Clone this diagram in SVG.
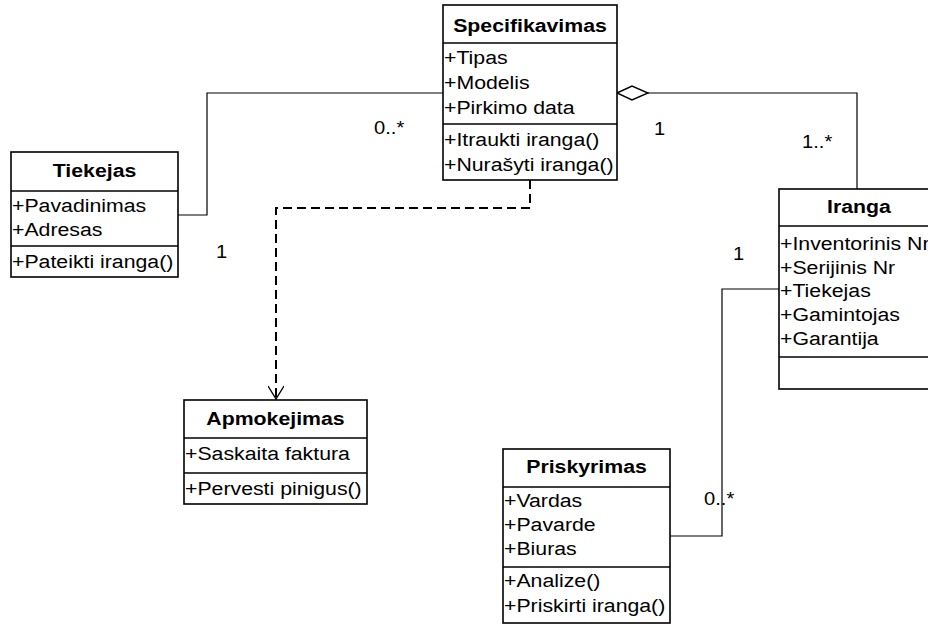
<svg xmlns="http://www.w3.org/2000/svg" width="928" height="624" viewBox="0 0 928 624">
  <style>
    .box { fill: #ffffff; stroke: #000000; stroke-width: 1.6; }
    .sep { stroke: #000000; stroke-width: 1.6; }
    .edge { fill: none; stroke: #000000; stroke-width: 1.2; }
    .dep { fill: none; stroke: #000000; stroke-width: 2; stroke-dasharray: 9 5; }
    text { font-family: "Liberation Sans", Arial, Helvetica, sans-serif; font-size: 19px; fill: #000000; }
    .title { font-weight: bold; text-anchor: middle; }
    .lbl { font-size: 18px; }
  </style>
  <defs>
    <marker id="open-arrow" viewBox="0 0 28 16" refX="26" refY="8" markerWidth="28" markerHeight="16" markerUnits="userSpaceOnUse" orient="auto">
      <path d="M13,0 L26,8 L13,16" fill="none" stroke="#000" stroke-width="1.4"/>
    </marker>
  </defs>

  <!-- connectors -->
  <g id="connectors">
    <!-- Tiekejas – Specifikavimas association -->
    <polyline class="edge" points="178,215 207,215 207,93 443,93"/>
    <!-- Specifikavimas ◇— Iranga aggregation -->
    <polyline class="edge" points="648,93 857,93 857,189"/>
    <polygon points="617,93 632,86 648,93 632,100" fill="#ffffff" stroke="#000" stroke-width="1.4"/>
    <!-- Priskyrimas – Iranga association -->
    <polyline class="edge" points="670,536 722,536 722,289 779,289"/>
    <!-- Specifikavimas - - > Apmokejimas dependency -->
    <polyline class="dep" points="530,180 530,208 276,208 276,399" marker-end="url(#open-arrow)"/>
    <!-- multiplicities -->
    <g transform="translate(374,134) scale(1.12,1)"><text class="lbl" x="0" y="0">0..*</text></g>
    <g transform="translate(654,135) scale(1.12,1)"><text class="lbl" x="0" y="0">1</text></g>
    <g transform="translate(802,148) scale(1.12,1)"><text class="lbl" x="0" y="0">1..*</text></g>
    <g transform="translate(216,258) scale(1.12,1)"><text class="lbl" x="0" y="0">1</text></g>
    <g transform="translate(733,260) scale(1.12,1)"><text class="lbl" x="0" y="0">1</text></g>
    <g transform="translate(704,505) scale(1.12,1)"><text class="lbl" x="0" y="0">0..*</text></g>
  </g>

  <!-- Specifikavimas -->
  <g id="specifikavimas">
    <rect class="box" x="443" y="5" width="174" height="175"/>
    <line class="sep" x1="443" y1="43" x2="617" y2="43"/>
    <line class="sep" x1="443" y1="124" x2="617" y2="124"/>
    <g transform="translate(530,0) scale(1.12,1)"><text class="title" x="0" y="32">Specifikavimas</text></g>
    <g transform="translate(444,0) scale(1.12,1)">
      <text x="0" y="64">+Tipas</text>
      <text x="0" y="89">+Modelis</text>
      <text x="0" y="114">+Pirkimo data</text>
      <text x="0" y="146">+Itraukti iranga()</text>
      <text x="0" y="171">+Nurašyti iranga()</text>
    </g>
  </g>

  <!-- Tiekejas -->
  <g id="tiekejas">
    <rect class="box" x="11" y="152" width="167" height="125"/>
    <line class="sep" x1="11" y1="191" x2="178" y2="191"/>
    <line class="sep" x1="11" y1="246" x2="178" y2="246"/>
    <g transform="translate(94.5,0) scale(1.12,1)"><text class="title" x="0" y="177">Tiekejas</text></g>
    <g transform="translate(12,0) scale(1.12,1)">
      <text x="0" y="212">+Pavadinimas</text>
      <text x="0" y="236">+Adresas</text>
      <text x="0" y="268">+Pateikti iranga()</text>
    </g>
  </g>

  <!-- Iranga -->
  <g id="iranga">
    <rect class="box" x="779" y="189" width="170" height="200"/>
    <line class="sep" x1="779" y1="226" x2="949" y2="226"/>
    <line class="sep" x1="779" y1="357" x2="949" y2="357"/>
    <g transform="translate(859,0) scale(1.12,1)"><text class="title" x="0" y="213">Iranga</text></g>
    <g transform="translate(780,0) scale(1.12,1)">
      <text x="0" y="250">+Inventorinis Nr</text>
      <text x="0" y="274">+Serijinis Nr</text>
      <text x="0" y="297">+Tiekejas</text>
      <text x="0" y="321">+Gamintojas</text>
      <text x="0" y="345">+Garantija</text>
    </g>
  </g>

  <!-- Apmokejimas -->
  <g id="apmokejimas">
    <rect class="box" x="184" y="400" width="183" height="104"/>
    <line class="sep" x1="184" y1="438" x2="367" y2="438"/>
    <line class="sep" x1="184" y1="473" x2="367" y2="473"/>
    <g transform="translate(275.5,0) scale(1.12,1)"><text class="title" x="0" y="425">Apmokejimas</text></g>
    <g transform="translate(185,0) scale(1.12,1)">
      <text x="0" y="460">+Saskaita faktura</text>
      <text x="0" y="495">+Pervesti pinigus()</text>
    </g>
  </g>

  <!-- Priskyrimas -->
  <g id="priskyrimas">
    <rect class="box" x="503" y="449" width="167" height="174"/>
    <line class="sep" x1="503" y1="487" x2="670" y2="487"/>
    <line class="sep" x1="503" y1="567" x2="670" y2="567"/>
    <g transform="translate(586.5,0) scale(1.12,1)"><text class="title" x="0" y="473">Priskyrimas</text></g>
    <g transform="translate(504,0) scale(1.12,1)">
      <text x="0" y="507">+Vardas</text>
      <text x="0" y="531">+Pavarde</text>
      <text x="0" y="555">+Biuras</text>
      <text x="0" y="587">+Analize()</text>
      <text x="0" y="612">+Priskirti iranga()</text>
    </g>
  </g>
</svg>
